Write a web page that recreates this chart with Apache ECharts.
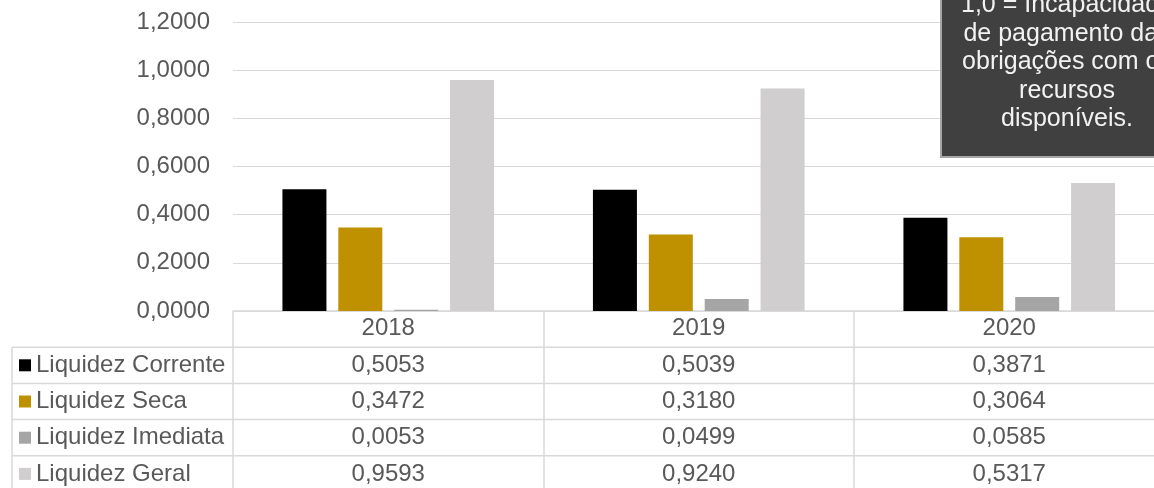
<!DOCTYPE html>
<html>
<head>
    <meta charset="utf-8">
    <title>Liquidez</title>
    <script src="https://cdn.jsdelivr.net/npm/echarts@6/dist/echarts.min.js"></script>
    <style>
        html, body { margin: 0; padding: 0; background: #fff; }
    </style>
</head>
<body>
<div id="main" style="width: 1154px;height:488px;"></div>
<script type="text/javascript">
    // dados
    var years = ['2018', '2019', '2020'];
    var corrente = [0.5053, 0.5039, 0.3871];
    var seca = [0.3472, 0.3180, 0.3064];
    var imediata = [0.0053, 0.0499, 0.0585];
    var geral = [0.9593, 0.9240, 0.5317];
    var seriesNames = ['Liquidez Corrente', 'Liquidez Seca', 'Liquidez Imediata', 'Liquidez Geral'];
    var seriesColors = ['#000000', '#BF9000', '#A5A5A5', '#D0CECE'];
    var noteLines = ['1,0 = Incapacidade', 'de pagamento das', 'obrigações com os', 'recursos', 'disponíveis.'];

    var allSeries = [corrente, seca, imediata, geral];
    var font = "'Liberation Sans', Arial, sans-serif";
    var textColor = '#595959';
    var lineColor = '#D9D9D9';
    var rowH = 36.2;

    function fmt(v) {
        return v.toFixed(4).replace('.', ',');
    }

    var myChart = echarts.init(document.getElementById('main'));

    myChart.setOption({
        animation: false,
        textStyle: { fontFamily: font },
        grid: { left: 233, top: 22, height: 289, width: 931.5, outerBoundsMode: 'none', containLabel: false },
        xAxis: {
            type: 'category',
            data: years,
            axisLine: { show: true, lineStyle: { color: lineColor, width: 1.5 } },
            axisTick: { show: true, length: 200, lineStyle: { color: lineColor, width: 1.5 } },
            axisLabel: { color: textColor, fontSize: 24, fontFamily: font, margin: 5 }
        },
        yAxis: {
            type: 'value',
            min: 0,
            max: 1.2,
            interval: 0.2,
            axisLine: { show: false },
            axisTick: { show: false },
            splitLine: { lineStyle: { color: lineColor, width: 1.2 } },
            axisLabel: {
                color: textColor, fontSize: 24, fontFamily: font, margin: 23,
                formatter: function (v) { return fmt(v); }
            }
        },
        series: allSeries.map(function (vals, i) {
            return {
                type: 'bar',
                name: seriesNames[i],
                data: vals,
                barWidth: 44,
                barGap: '27%',
                itemStyle: { color: seriesColors[i] }
            };
        })
    });

    // tabela de dados e nota
    var y0 = myChart.convertToPixel({ yAxisIndex: 0 }, 0);
    var colX = years.map(function (y, i) { return myChart.convertToPixel({ xAxisIndex: 0 }, i); });
    var graphics = [];
    var right = 1200;

    // linhas horizontais da tabela
    for (var r = 1; r <= 5; r++) {
        graphics.push({
            type: 'line',
            shape: { x1: 12, y1: y0 + r * rowH, x2: right, y2: y0 + r * rowH },
            style: { stroke: lineColor, lineWidth: 1.5 }
        });
    }
    graphics.push({
        type: 'line',
        shape: { x1: 12, y1: y0 + rowH, x2: 12, y2: 520 },
        style: { stroke: lineColor, lineWidth: 1.5 }
    });

    allSeries.forEach(function (vals, i) {
        var cy = y0 + rowH * (i + 1.5);
        graphics.push({
            type: 'rect',
            shape: { x: 19, y: cy - 6, width: 12, height: 12 },
            style: { fill: seriesColors[i] }
        });
        graphics.push({
            type: 'text',
            x: 36, y: cy,
            style: {
                text: seriesNames[i], fill: textColor, font: '24px ' + font,
                textAlign: 'left', textVerticalAlign: 'middle'
            }
        });
        vals.forEach(function (v, j) {
            graphics.push({
                type: 'text',
                x: colX[j], y: cy,
                style: {
                    text: fmt(v), fill: textColor, font: '24px ' + font,
                    textAlign: 'center', textVerticalAlign: 'middle'
                }
            });
        });
    });

    // caixa de nota
    graphics.push({
        type: 'rect',
        shape: { x: 941, y: -10, width: 260, height: 167 },
        style: { fill: '#404040', stroke: '#A6A6A6', lineWidth: 2 }
    });
    graphics.push({
        type: 'text',
        x: 1067, y: -9,
        style: {
            text: noteLines.join('\n'), fill: '#F2F2F2', font: '25px ' + font,
            lineHeight: 28.5, textAlign: 'center', textVerticalAlign: 'top'
        }
    });

    myChart.setOption({ graphic: graphics });
</script>
</body>
</html>
